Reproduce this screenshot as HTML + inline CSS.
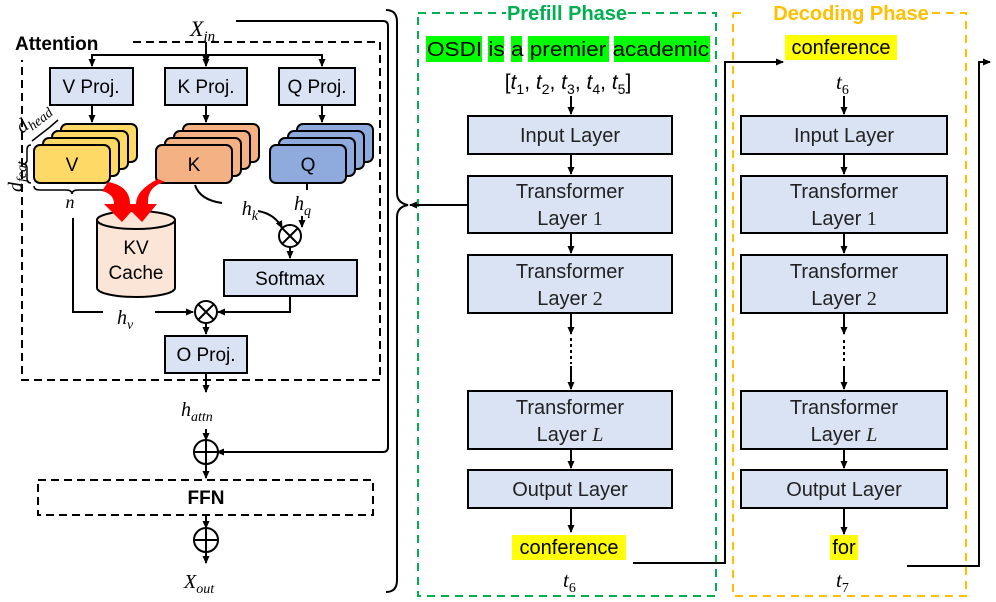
<!DOCTYPE html>
<html><head><meta charset="utf-8"><style>
html,body{margin:0;padding:0;background:#fff;}
svg{display:block;}
text{font-family:"Liberation Sans",sans-serif;}
.m{font-family:"Liberation Serif",serif;font-style:italic;}
</style></head><body>
<svg width="996" height="602" viewBox="0 0 996 602" xmlns="http://www.w3.org/2000/svg">
<defs>
<marker id="a" markerWidth="8" markerHeight="8" refX="7" refY="4" orient="auto" markerUnits="userSpaceOnUse"><path d="M0,0.5 L8,4 L0,7.5 Z" fill="#000"/></marker>
</defs>
<g stroke="#000" stroke-width="2" fill="none">
<path d="M133,42 H380 V380 H22 V60" stroke-dasharray="8,5"/>
<rect x="38" y="480" width="335" height="35" stroke-dasharray="8,5"/>
<path d="M236,21 H383 Q388,21 388,26 V447 Q388,452 383,452 H217" marker-end="url(#a)"/>
<path d="M206,42 V63" marker-end="url(#a)"/>
<path d="M92,63 V55 H322 V63" />
<path d="M92,55 V66" marker-end="url(#a)"/>
<path d="M322,55 V66" marker-end="url(#a)"/>
<path d="M206,55 V66" marker-end="url(#a)"/>
<path d="M92,105 V122" marker-end="url(#a)"/>
<path d="M206,105 V122" marker-end="url(#a)"/>
<path d="M322,105 V122" marker-end="url(#a)"/>
</g>
<g stroke="#000" stroke-width="2" fill="#dae3f3">
<rect x="50" y="68" width="83" height="37"/>
<rect x="165" y="68" width="82" height="37"/>
<rect x="279" y="68" width="76" height="37"/>
<rect x="224" y="260" width="133" height="36"/>
<rect x="165" y="336" width="82" height="37"/>
</g>
<g font-size="19" text-anchor="middle">
<text x="91" y="93">V Proj.</text>
<text x="206" y="93">K Proj.</text>
<text x="317" y="93">Q Proj.</text>
<text x="290" y="285">Softmax</text>
<text x="206" y="361">O Proj.</text>
</g>
<g stroke="#000" stroke-width="2">
<g fill="#ffd966">
<rect x="61" y="124" width="76" height="38" rx="6"/>
<rect x="52" y="131" width="76" height="38" rx="6"/>
<rect x="43" y="138" width="76" height="38" rx="6"/>
<rect x="34" y="145" width="76" height="38" rx="6"/>
</g>
<g fill="#f4b183">
<rect x="183" y="124" width="76" height="38" rx="6"/>
<rect x="174" y="131" width="76" height="38" rx="6"/>
<rect x="165" y="138" width="76" height="38" rx="6"/>
<rect x="156" y="145" width="76" height="38" rx="6"/>
</g>
<g fill="#8faadc">
<rect x="297" y="124" width="76" height="38" rx="6"/>
<rect x="288" y="131" width="76" height="38" rx="6"/>
<rect x="279" y="138" width="76" height="38" rx="6"/>
<rect x="270" y="145" width="76" height="38" rx="6"/>
</g>
</g>
<g font-size="19" text-anchor="middle">
<text x="72" y="171">V</text>
<text x="194" y="171">K</text>
<text x="308" y="171">Q</text>
</g>
<g stroke="#000" stroke-width="1.5" fill="none">
<path d="M34,186 Q34,190 40,190 H66 Q72,190 72,194 Q72,190 78,190 H104 Q110,190 110,186"/>
<path d="M31,183 Q27,183 27,178 V168 Q27,164 23,164 Q27,164 27,160 V150 Q27,145 31,145"/>
<path d="M32,141 L50,127 L58,120"/>
</g>
<text class="m" x="70" y="208" font-size="18" text-anchor="middle">n</text>
<text class="m" x="22" y="192" font-size="20" transform="rotate(-90 22 192)">d<tspan font-size="14" dy="4">feat</tspan></text>
<text class="m" x="22" y="134" font-size="20" transform="rotate(-38 22 134)">d<tspan font-size="14" dy="4">head</tspan></text>
<g stroke="#000" stroke-width="2" fill="#fbe5d6">
<path d="M97,220 V288 A39,9 0 0 0 175,288 V220"/>
<ellipse cx="136" cy="220" rx="39" ry="9"/>
</g>
<text x="136" y="254" font-size="19" text-anchor="middle">KV</text>
<text x="136" y="279" font-size="19" text-anchor="middle">Cache</text>
<g fill="#ff0000">
<path d="M108,182 Q130,186 130,204 L138,204 L122,222 L104,204 L114,204 Q114,194 102,191 Z"/>
<path d="M165,182 Q147,186 148,204 L157,204 L142,222 L124,204 L136,204 Q136,190 158,179 Z"/>
</g>
<g stroke="#000" stroke-width="2" fill="none">
<path d="M195,185 Q200,200 222,203"/>
<path d="M258,211 Q275,214 282,228" marker-end="url(#a)"/>
<path d="M307,184 V190"/>
<path d="M302,216 V227" marker-end="url(#a)"/>
<circle cx="290" cy="236" r="11"/>
<path d="M282,228 L298,244 M298,228 L282,244"/>
<path d="M290,247 V258" marker-end="url(#a)"/>
<path d="M73,218 V312 H103"/>
<path d="M155,312 H193" marker-end="url(#a)"/>
<path d="M290,296 V312 H218" marker-end="url(#a)"/>
<circle cx="206" cy="312" r="11"/>
<path d="M198,304 L214,320 M214,304 L198,320"/>
<path d="M206,323 V334" marker-end="url(#a)"/>
<path d="M206,373 V392" marker-end="url(#a)"/>
<path d="M206,429 V440" marker-end="url(#a)"/>
<circle cx="206" cy="452" r="12"/>
<path d="M194,452 H218 M206,440 V464"/>
<path d="M206,464 V478" marker-end="url(#a)"/>
<path d="M206,515 V528" marker-end="url(#a)"/>
<circle cx="206" cy="540" r="12"/>
<path d="M194,540 H218 M206,528 V552"/>
<path d="M206,552 V563" marker-end="url(#a)"/>
<path d="M386,10 Q397,10 397,22 V193 Q397,203 408,205 Q397,207 397,217 V580 Q397,592 386,592"/>
</g>
<text x="15" y="50" font-size="19" font-weight="bold">Attention</text>
<text class="m" x="190" y="36" font-size="22">X<tspan font-size="15" dy="5">in</tspan></text>
<text class="m" x="258" y="215" font-size="20" text-anchor="end">h<tspan font-size="14" dy="5">k</tspan></text>
<text class="m" x="294" y="210" font-size="20">h<tspan font-size="14" dy="5">q</tspan></text>
<text class="m" x="117" y="324" font-size="20">h<tspan font-size="14" dy="5">v</tspan></text>
<text class="m" x="181" y="416" font-size="20">h<tspan font-size="14" dy="5">attn</tspan></text>
<text class="m" x="184" y="588" font-size="20">X<tspan font-size="14" dy="5">out</tspan></text>
<text x="206" y="504" font-size="19" font-weight="bold" text-anchor="middle">FFN</text>

<path d="M418,13 H506 M628,13 H716 V596 H418 V13" stroke="#00b050" stroke-width="2" fill="none" stroke-dasharray="8,6"/>
<path d="M733,13 H745 M932,13 H966 V596 H733 V13" stroke="#ffc000" stroke-width="2" fill="none" stroke-dasharray="8,6"/>
<text x="567" y="20" font-size="20" font-weight="bold" fill="#00b050" text-anchor="middle">Prefill Phase</text>
<text x="851" y="20" font-size="20" font-weight="bold" fill="#ffc000" text-anchor="middle">Decoding Phase</text>

<g fill="#00ff00">
<rect x="426" y="36" width="56" height="26"/>
<rect x="488" y="36" width="16" height="26"/>
<rect x="511" y="36" width="11" height="26"/>
<rect x="528" y="36" width="81" height="26"/>
<rect x="614" y="36" width="96" height="26"/>
</g>
<g fill="#ffff00">
<rect x="785" y="35" width="112" height="25"/>
<rect x="512" y="535" width="114" height="25"/>
<rect x="830" y="535" width="28" height="25"/>
</g>
<g font-size="20">
<text x="427" y="56" textLength="282" lengthAdjust="spacingAndGlyphs">OSDI is a premier academic</text>
<text x="841" y="54" text-anchor="middle">conference</text>
<text x="569" y="554" text-anchor="middle">conference</text>
<text x="844" y="554" text-anchor="middle">for</text>
</g>
<text x="568" y="89" font-size="21" text-anchor="middle" font-family="Liberation Serif,serif">[<tspan font-style="italic">t</tspan><tspan font-size="14" dy="5">1</tspan><tspan dy="-5">, </tspan><tspan font-style="italic">t</tspan><tspan font-size="14" dy="5">2</tspan><tspan dy="-5">, </tspan><tspan font-style="italic">t</tspan><tspan font-size="14" dy="5">3</tspan><tspan dy="-5">, </tspan><tspan font-style="italic">t</tspan><tspan font-size="14" dy="5">4</tspan><tspan dy="-5">, </tspan><tspan font-style="italic">t</tspan><tspan font-size="14" dy="5">5</tspan><tspan dy="-5">]</tspan></text>
<text class="m" x="836" y="89" font-size="21">t<tspan font-size="14" dy="5" font-style="normal">6</tspan></text>
<text class="m" x="563" y="587" font-size="21">t<tspan font-size="14" dy="5" font-style="normal">6</tspan></text>
<text class="m" x="836" y="587" font-size="21">t<tspan font-size="14" dy="5" font-style="normal">7</tspan></text>

<g stroke="#000" stroke-width="2" fill="#dae3f3">
<rect x="468" y="116" width="204" height="38"/>
<rect x="468" y="176" width="204" height="57"/>
<rect x="468" y="255" width="204" height="58"/>
<rect x="468" y="391" width="204" height="58"/>
<rect x="468" y="470" width="204" height="38"/>
<rect x="741" y="116" width="206" height="38"/>
<rect x="741" y="176" width="206" height="57"/>
<rect x="741" y="255" width="206" height="58"/>
<rect x="741" y="391" width="206" height="58"/>
<rect x="741" y="470" width="206" height="38"/>
</g>
<g font-size="20" text-anchor="middle" fill="#222">
<text x="570" y="142">Input Layer</text>
<text x="570" y="198">Transformer</text>
<text x="570" y="225">Layer <tspan font-family="Liberation Serif,serif">1</tspan></text>
<text x="570" y="278">Transformer</text>
<text x="570" y="305">Layer <tspan font-family="Liberation Serif,serif">2</tspan></text>
<text x="570" y="414">Transformer</text>
<text x="570" y="441">Layer <tspan class="m">L</tspan></text>
<text x="570" y="496">Output Layer</text>
<text x="844" y="142">Input Layer</text>
<text x="844" y="198">Transformer</text>
<text x="844" y="225">Layer <tspan font-family="Liberation Serif,serif">1</tspan></text>
<text x="844" y="278">Transformer</text>
<text x="844" y="305">Layer <tspan font-family="Liberation Serif,serif">2</tspan></text>
<text x="844" y="414">Transformer</text>
<text x="844" y="441">Layer <tspan class="m">L</tspan></text>
<text x="844" y="496">Output Layer</text>
</g>
<g stroke="#000" stroke-width="2" fill="none">
<path d="M571,96 V114" marker-end="url(#a)"/>
<path d="M571,154 V174" marker-end="url(#a)"/>
<path d="M571,233 V253" marker-end="url(#a)"/>
<path d="M571,313 V334" marker-end="url(#a)"/>
<path d="M571,338 V364" stroke-dasharray="3,3"/>
<path d="M571,366 V389" marker-end="url(#a)"/>
<path d="M571,449 V468" marker-end="url(#a)"/>
<path d="M571,508 V532" marker-end="url(#a)"/>
<path d="M844,96 V114" marker-end="url(#a)"/>
<path d="M844,154 V174" marker-end="url(#a)"/>
<path d="M844,233 V253" marker-end="url(#a)"/>
<path d="M844,313 V334" marker-end="url(#a)"/>
<path d="M844,340 V364" stroke-dasharray="3,3"/>
<path d="M844,366 V389" marker-end="url(#a)"/>
<path d="M844,449 V468" marker-end="url(#a)"/>
<path d="M844,508 V534" marker-end="url(#a)"/>
<path d="M468,205 H410" marker-end="url(#a)"/>
<path d="M633,563 H725 V62 H783" marker-end="url(#a)"/>
<path d="M907,566 H979 V62 H990" marker-end="url(#a)"/>
</g>
</svg>
</body></html>
